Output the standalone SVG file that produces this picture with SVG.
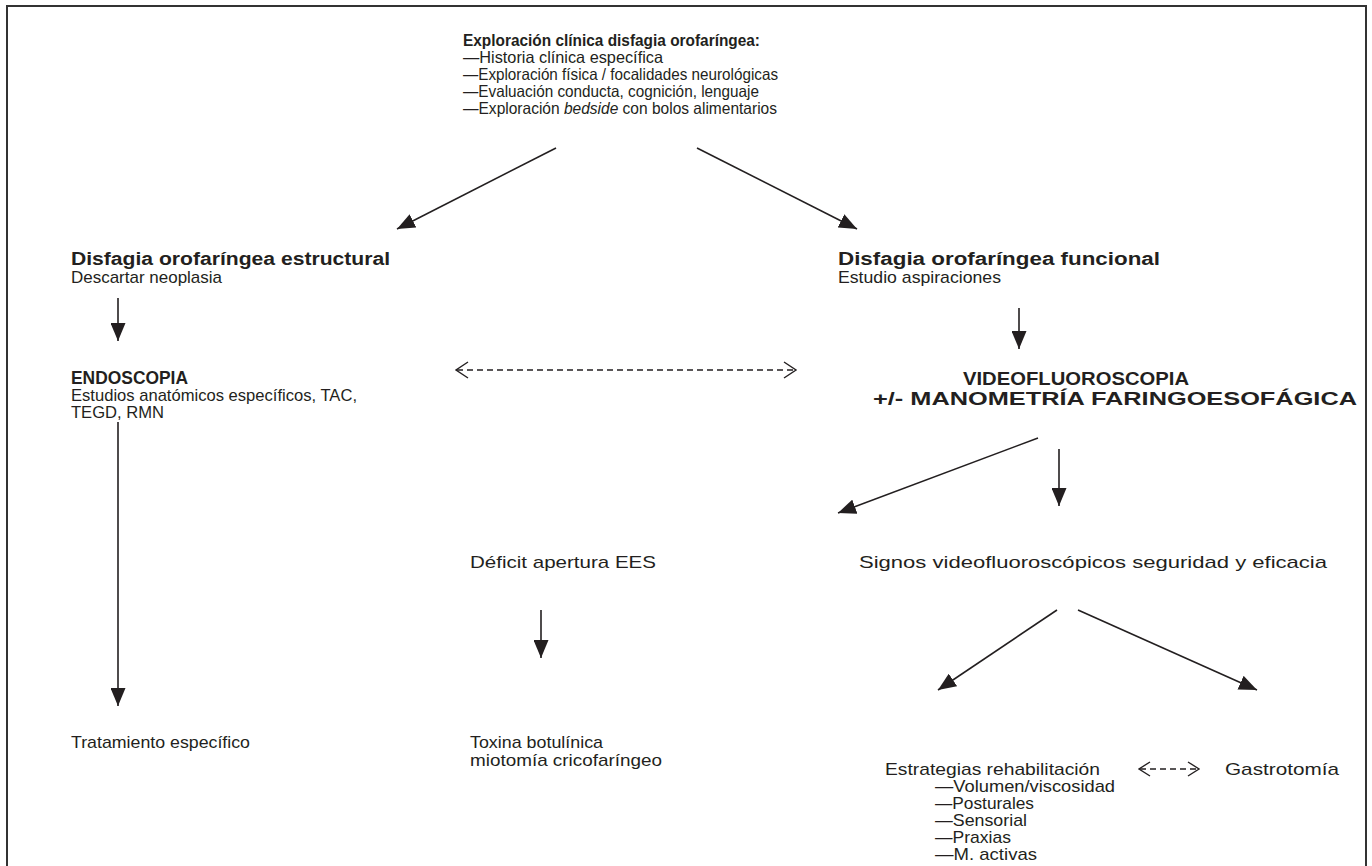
<svg xmlns="http://www.w3.org/2000/svg" width="1372" height="866" viewBox="0 0 1372 866">
<defs>
<style>
text{font-family:"Liberation Sans",Arial,sans-serif;font-size:17px;fill:#231f20}
.b{font-weight:bold;font-size:18px}
.s{font-size:16.5px}
.ln{stroke:#231f20;stroke-width:1.6;fill:none}
.ds{stroke:#231f20;stroke-width:1.4;fill:none;stroke-dasharray:6 4}
.ch{stroke:#231f20;stroke-width:1.4;fill:none}
</style>
<marker id="ah" viewBox="0 0 18 15" refX="18" refY="7.5" markerWidth="18" markerHeight="15" markerUnits="userSpaceOnUse" orient="auto">
<path d="M0,0 L18,7.5 L0,15 Z" fill="#231f20"/>
</marker>
</defs>
<rect x="7" y="6" width="1359" height="880" fill="#fff" stroke="#333" stroke-width="2"/>

<g id="connectors">
<line class="ln" x1="556" y1="148" x2="397" y2="229" marker-end="url(#ah)"/>
<line class="ln" x1="697" y1="148" x2="857" y2="229" marker-end="url(#ah)"/>
<line class="ln" x1="118" y1="298" x2="118" y2="341" marker-end="url(#ah)"/>
<line class="ln" x1="1019" y1="308" x2="1019" y2="349" marker-end="url(#ah)"/>
<line class="ds" x1="457" y1="370" x2="795" y2="370"/>
<path class="ch" d="M468,362 L456,370 L468,378 M784,362 L796,370 L784,378"/>
<line class="ln" x1="118" y1="422" x2="118" y2="706" marker-end="url(#ah)"/>
<line class="ln" x1="1038" y1="438" x2="838" y2="513" marker-end="url(#ah)"/>
<line class="ln" x1="1059" y1="449" x2="1059" y2="506" marker-end="url(#ah)"/>
<line class="ln" x1="541" y1="610" x2="541" y2="658" marker-end="url(#ah)"/>
<line class="ln" x1="1057" y1="610" x2="938" y2="690" marker-end="url(#ah)"/>
<line class="ln" x1="1078" y1="610" x2="1257" y2="690" marker-end="url(#ah)"/>
<line class="ds" x1="1140" y1="769" x2="1198" y2="769" stroke-dasharray="5 4"/>
<path class="ch" d="M1150,762 L1139,769 L1150,776 M1188,762 L1199,769 L1188,776"/>
</g>

<g id="n-exploracion">
<text x="463" y="46" class="b s" textLength="297" lengthAdjust="spacingAndGlyphs">Exploración clínica disfagia orofaríngea:</text>
<text x="463" y="63" class="s" textLength="200" lengthAdjust="spacingAndGlyphs">—Historia clínica específica</text>
<text x="463" y="80" class="s" textLength="315" lengthAdjust="spacingAndGlyphs">—Exploración física / focalidades neurológicas</text>
<text x="463" y="97" class="s" textLength="296" lengthAdjust="spacingAndGlyphs">—Evaluación conducta, cognición, lenguaje</text>
<text x="463" y="114" class="s" textLength="314" lengthAdjust="spacingAndGlyphs">—Exploración <tspan font-style="italic">bedside</tspan> con bolos alimentarios</text>
</g>

<g id="n-estructural">
<text x="71" y="265" class="b" textLength="319" lengthAdjust="spacingAndGlyphs">Disfagia orofaríngea estructural</text>
<text x="71" y="283" textLength="151" lengthAdjust="spacingAndGlyphs">Descartar neoplasia</text>
</g>

<g id="n-funcional">
<text x="838" y="265" class="b" textLength="322" lengthAdjust="spacingAndGlyphs">Disfagia orofaríngea funcional</text>
<text x="838" y="283" textLength="163" lengthAdjust="spacingAndGlyphs">Estudio aspiraciones</text>
</g>

<g id="n-endoscopia">
<text x="71" y="384" class="b" textLength="117" lengthAdjust="spacingAndGlyphs">ENDOSCOPIA</text>
<text x="71" y="401" textLength="286" lengthAdjust="spacingAndGlyphs">Estudios anatómicos específicos, TAC,</text>
<text x="71" y="418" textLength="93" lengthAdjust="spacingAndGlyphs">TEGD, RMN</text>
</g>

<g id="n-video">
<text x="963" y="385" class="b" textLength="226" lengthAdjust="spacingAndGlyphs">VIDEOFLUOROSCOPIA</text>
<text x="873" y="405" class="b" textLength="484" lengthAdjust="spacingAndGlyphs">+/- MANOMETRÍA FARINGOESOFÁGICA</text>
</g>

<g id="n-deficit">
<text x="470" y="568" textLength="186" lengthAdjust="spacingAndGlyphs">Déficit apertura EES</text>
</g>

<g id="n-signos">
<text x="859" y="568" textLength="468" lengthAdjust="spacingAndGlyphs">Signos videofluoroscópicos seguridad y eficacia</text>
</g>

<g id="n-tratamiento">
<text x="71" y="748" textLength="179" lengthAdjust="spacingAndGlyphs">Tratamiento específico</text>
</g>

<g id="n-toxina">
<text x="470" y="748" textLength="133" lengthAdjust="spacingAndGlyphs">Toxina botulínica</text>
<text x="470" y="766" textLength="192" lengthAdjust="spacingAndGlyphs">miotomía cricofaríngeo</text>
</g>

<g id="n-estrategias">
<text x="885" y="775" textLength="215" lengthAdjust="spacingAndGlyphs">Estrategias rehabilitación</text>
<text x="935" y="792" textLength="180" lengthAdjust="spacingAndGlyphs">—Volumen/viscosidad</text>
<text x="935" y="809" textLength="99" lengthAdjust="spacingAndGlyphs">—Posturales</text>
<text x="935" y="826" textLength="92" lengthAdjust="spacingAndGlyphs">—Sensorial</text>
<text x="935" y="843" textLength="76" lengthAdjust="spacingAndGlyphs">—Praxias</text>
<text x="935" y="860" textLength="102" lengthAdjust="spacingAndGlyphs">—M. activas</text>
</g>

<g id="n-gastrotomia">
<text x="1225" y="775" textLength="114" lengthAdjust="spacingAndGlyphs">Gastrotomía</text>
</g>
</svg>
